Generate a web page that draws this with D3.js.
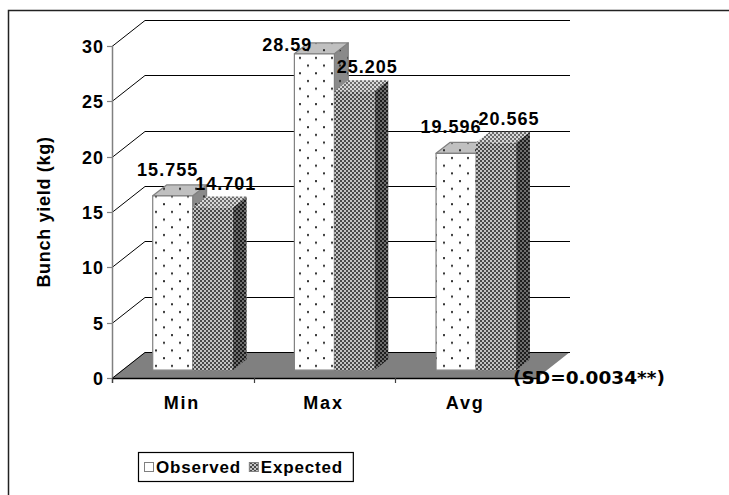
<!DOCTYPE html>
<html>
<head>
<meta charset="utf-8">
<script src="https://cdn.jsdelivr.net/npm/d3@7"></script>
<style>
  body { margin: 0; background: #fff; }
  svg { display: block; }
  text { font-family: "Liberation Sans", Arial, sans-serif; font-weight: bold; fill: #000; }
</style>
</head>
<body>
<svg id="chart" width="729" height="495"></svg>
<script>
// ---- data ----
const categories = ["Min", "Max", "Avg"];
const seriesNames = ["Observed", "Expected"];
const observed = [15.755, 28.59, 19.596];
const expected = [14.701, 25.205, 20.565];
const yTicks = [0, 5, 10, 15, 20, 25, 30];
const yTitle = "Bunch yield (kg)";
const note = "(SD=0.0034**)";

const svg = d3.select("#chart");
const defs = svg.append("defs");

// ---- 3D frame geometry ----
const depth = { x: 33, y: -26 };          // floor depth projected on screen
const barFront = 0.3, barBack = 0.72;     // bar slab position inside the depth
const x = d3.scaleBand().domain(categories).range([112, 537]);
const xInner = d3.scaleBand().domain(seriesNames).range([0, x.bandwidth()]).paddingOuter(0.77);
const y = d3.scaleLinear().domain([0, 30]).range([378, 46]);

// ---- fill patterns ----
function dotPattern(id, bg) {
  const p = defs.append("pattern").attr("id", id).attr("patternUnits", "userSpaceOnUse")
    .attr("width", 16).attr("height", 15.4);
  p.append("rect").attr("width", 16).attr("height", 15.4).attr("fill", bg);
  [[4, 4], [12, 11.7]].forEach(([cx, cy]) =>
    p.append("rect").attr("x", cx - 1).attr("y", cy - 1).attr("width", 2).attr("height", 2).attr("fill", "#303030"));
}
function checkPattern(id, a, b) {
  const p = defs.append("pattern").attr("id", id).attr("patternUnits", "userSpaceOnUse")
    .attr("width", 4).attr("height", 4);
  p.append("rect").attr("width", 4).attr("height", 4).attr("fill", b);
  p.append("rect").attr("width", 2).attr("height", 2).attr("fill", a);
  p.append("rect").attr("x", 2).attr("y", 2).attr("width", 2).attr("height", 2).attr("fill", a);
}
dotPattern("obsFront", "#ffffff");
dotPattern("obsTop", "#c0c0c0");
dotPattern("obsSide", "#8a8a8a");
checkPattern("expFront", "#4a4a4a", "#c4c4c4");
checkPattern("expTop", "#6a6a6a", "#d8d8d8");
checkPattern("expSide", "#1e1e1e", "#6e6e6e");

const styles = {
  Observed: { front: "url(#obsFront)", top: "url(#obsTop)", side: "url(#obsSide)", stroke: "#808080" },
  Expected: { front: "url(#expFront)", top: "url(#expTop)", side: "url(#expSide)", stroke: "none" }
};

// ---- outer border ----
svg.append("rect").attr("x", 8.5).attr("y", 10.5).attr("width", 760).attr("height", 520)
  .attr("fill", "none").attr("stroke", "#222").attr("stroke-width", 1.5);

// ---- floor ----
const y0 = y(0);
const floorPts = [[x.range()[0], y0], [x.range()[0] + depth.x, y0 + depth.y],
  [x.range()[1] + depth.x, y0 + depth.y], [x.range()[1], y0]];
svg.append("polygon").attr("points", floorPts.map(p => p.join(",")).join(" ")).attr("fill", "#808080");

// ---- gridlines: left wall diagonals + back wall lines ----
const grid = svg.append("g").attr("stroke", "#000").attr("stroke-width", 1);
yTicks.forEach(t => {
  const yy = Math.round(y(t)) + 0.5;
  grid.append("line").attr("x1", x.range()[0]).attr("y1", yy)
    .attr("x2", x.range()[0] + depth.x).attr("y2", yy + depth.y);
  grid.append("line").attr("x1", x.range()[0] + depth.x).attr("y1", yy + depth.y)
    .attr("x2", x.range()[1] + depth.x).attr("y2", yy + depth.y);
});

// ---- y axis ----
svg.append("line").attr("x1", 112.5).attr("x2", 112.5).attr("y1", y(30)).attr("y2", y0 + 5)
  .attr("stroke", "#808080").attr("stroke-width", 1.5);
const yAxis = svg.append("g");
yTicks.forEach(t => {
  const yy = Math.round(y(t)) + 0.5;
  yAxis.append("line").attr("x1", 107).attr("x2", 112).attr("y1", yy).attr("y2", yy)
    .attr("stroke", "#808080").attr("stroke-width", 1.2);
  yAxis.append("text").attr("x", 104).attr("y", yy).attr("dy", "0.36em")
    .attr("text-anchor", "end").style("font-size", "18px").style("letter-spacing", "1px")
    .text(t);
});
svg.append("text").attr("transform", "translate(50,212) rotate(-90)")
  .attr("text-anchor", "middle").style("font-size", "18px").style("letter-spacing", "0.7px")
  .text(yTitle);

// ---- x axis ----
svg.append("line").attr("x1", x.range()[0]).attr("x2", x.range()[1]).attr("y1", y0 + 0.5).attr("y2", y0 + 0.5)
  .attr("stroke", "#000").attr("stroke-width", 1.5);
const bounds = categories.map(c => x(c)).concat([x.range()[1]]);
bounds.forEach(bx => {
  svg.append("line").attr("x1", Math.round(bx) + 0.5).attr("x2", Math.round(bx) + 0.5)
    .attr("y1", y0).attr("y2", y0 + 5).attr("stroke", "#404040").attr("stroke-width", 1.2);
});
categories.forEach(c => {
  svg.append("text").attr("x", x(c) + x.bandwidth() / 2 - 1).attr("y", 409)
    .attr("text-anchor", "middle").style("font-size", "18px").style("letter-spacing", "1.8px").text(c);
});

// ---- bars ----
const bd = { x: depth.x * (barBack - barFront), y: depth.y * (barBack - barFront) };
const values = { Observed: observed, Expected: expected };
// label placement relative to the top face of each bar
const labelRule = { Observed: { dx: -12, dy: -20 }, Expected: { dx: 6, dy: -18 } };
const labelNudge = { "Observed-Max": { dx: -22, dy: 17 } };
const bars = [];
categories.forEach((c, i) => {
  seriesNames.forEach(s => {
    const v = values[s][i];
    const w = xInner.bandwidth();
    const x0 = x(c) + xInner(s) + depth.x * barFront;
    const x1 = x0 + w;
    const yb = y(0) + depth.y * barFront;
    const yt = y(v) + depth.y * barFront;
    bars.push({ c, s, v, x0, x1, yb, yt });
  });
});
const barG = svg.append("g");
bars.forEach(b => {
  const st = styles[b.s];
  const g = barG.append("g").attr("stroke", st.stroke).attr("stroke-width", 1.2).attr("stroke-linejoin", "round");
  const side = [[b.x1, b.yt], [b.x1 + bd.x, b.yt + bd.y], [b.x1 + bd.x, b.yb + bd.y], [b.x1, b.yb]];
  const top = [[b.x0, b.yt], [b.x0 + bd.x, b.yt + bd.y], [b.x1 + bd.x, b.yt + bd.y], [b.x1, b.yt]];
  g.append("polygon").attr("points", side.map(p => p.join(",")).join(" ")).attr("fill", st.side);
  g.append("polygon").attr("points", top.map(p => p.join(",")).join(" ")).attr("fill", st.top);
  g.append("rect").attr("x", b.x0).attr("y", b.yt).attr("width", b.x1 - b.x0).attr("height", b.yb - b.yt)
    .attr("fill", st.front);
});

// ---- value labels ----
bars.forEach(b => {
  const r = labelRule[b.s];
  const n = labelNudge[b.s + "-" + b.c] || { dx: 0, dy: 0 };
  const cx = (b.x0 + b.x1) / 2 + bd.x / 2 + r.dx + n.dx;
  const by = b.yt + r.dy + n.dy;
  svg.append("text").attr("x", cx).attr("y", by).attr("text-anchor", "middle")
    .style("font-size", "18px").style("letter-spacing", "1px").text(b.v);
});

// ---- significance note ----
svg.append("text").attr("x", 513).attr("y", 384)
  .style("font-family", "'DejaVu Sans', Verdana, sans-serif").style("font-size", "18.5px")
  .text(note);

// ---- legend ----
const legend = svg.append("g");
const lx = 138, ly = 452, lh = 29;
const box = legend.append("rect").attr("x", lx + 0.5).attr("y", ly + 0.5).attr("height", lh)
  .attr("fill", "#fff").attr("stroke", "#000").attr("stroke-width", 1.2);
let cursor = lx + 6;
seriesNames.forEach(s => {
  const st = styles[s];
  legend.append("rect").attr("x", cursor + 0.5).attr("y", ly + 10.5).attr("width", 9).attr("height", 9)
    .attr("fill", s === "Observed" ? "#fff" : st.front).attr("stroke", "#808080").attr("stroke-width", 1);
  cursor += 12;
  const t = legend.append("text").attr("x", cursor).attr("y", ly + 21)
    .style("font-size", "17px").style("letter-spacing", "0.8px").text(s);
  cursor += t.node().getComputedTextLength() + 8;
});
box.attr("width", cursor - lx + 2);
</script>
</body>
</html>
